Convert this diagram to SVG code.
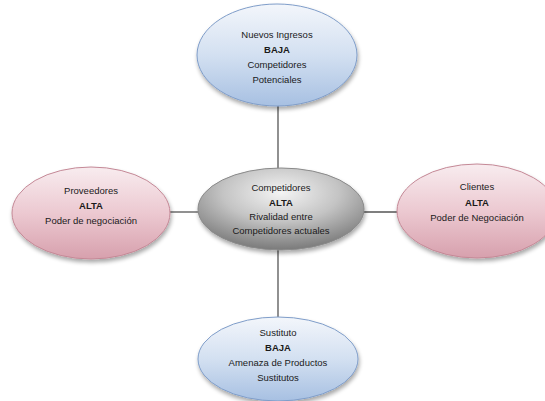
<svg xmlns="http://www.w3.org/2000/svg" width="545" height="401" viewBox="0 0 545 401">
<defs>
<linearGradient id="gBlue" x1="0" y1="0" x2="0" y2="1">
<stop offset="0" stop-color="#f3f6fb"/><stop offset="0.5" stop-color="#d3e0f1"/><stop offset="1" stop-color="#a7c0e2"/>
</linearGradient>
<linearGradient id="gPink" x1="0" y1="0" x2="0" y2="1">
<stop offset="0" stop-color="#f8ecef"/><stop offset="0.5" stop-color="#ecc9d1"/><stop offset="1" stop-color="#d7a0ad"/>
</linearGradient>
<radialGradient id="gGray" cx="0.5" cy="0.3" r="0.7">
<stop offset="0" stop-color="#f4f4f4"/><stop offset="0.5" stop-color="#c4c4c4"/><stop offset="1" stop-color="#7a7a7a"/>
</radialGradient>
<filter id="sh" x="-20%" y="-20%" width="140%" height="150%">
<feGaussianBlur in="SourceAlpha" stdDeviation="2"/>
<feOffset dx="1" dy="3" result="b"/>
<feComponentTransfer><feFuncA type="linear" slope="0.35"/></feComponentTransfer>
<feMerge><feMergeNode/><feMergeNode in="SourceGraphic"/></feMerge>
</filter>
</defs>
<style>
.blue{fill:url(#gBlue);stroke:#7f9dc9;stroke-width:1}
.pink{fill:url(#gPink);stroke:#c48896;stroke-width:1}
.gray{fill:url(#gGray);stroke:#8a8a8a;stroke-width:1}
text{font-family:"Liberation Sans",Arial,sans-serif;font-size:9.5px;fill:#1a1a1a;text-anchor:middle}
.b{font-weight:bold}
.con line{stroke:#555;stroke-width:1.3}
</style>
<g class="con">
<line x1="278" y1="105" x2="278" y2="170"/>
<line x1="278" y1="248" x2="278" y2="318"/>
<line x1="168" y1="212" x2="200" y2="212"/>
<line x1="363" y1="212" x2="398" y2="212"/>
</g>
<g id="nuevos">
<ellipse class="blue" filter="url(#sh)" cx="277" cy="55" rx="80" ry="51"/>
<text x="277" y="38">Nuevos Ingresos</text>
<text x="277" y="53" class="b">BAJA</text>
<text x="277" y="68">Competidores</text>
<text x="277" y="83">Potenciales</text>
</g>
<g id="proveedores">
<ellipse class="pink" filter="url(#sh)" cx="91" cy="213" rx="79" ry="46"/>
<text x="91" y="194">Proveedores</text>
<text x="91" y="209" class="b">ALTA</text>
<text x="91" y="224">Poder de negociación</text>
</g>
<g id="competidores">
<ellipse class="gray" filter="url(#sh)" cx="281" cy="209" rx="83" ry="41"/>
<text x="281" y="191">Competidores</text>
<text x="281" y="206" class="b">ALTA</text>
<text x="281" y="220">Rivalidad entre</text>
<text x="281" y="234">Competidores actuales</text>
</g>
<g id="clientes">
<ellipse class="pink" filter="url(#sh)" cx="477" cy="211" rx="80" ry="47"/>
<text x="477" y="190">Clientes</text>
<text x="477" y="206" class="b">ALTA</text>
<text x="477" y="221">Poder de Negociación</text>
</g>
<g id="sustituto">
<ellipse class="blue" filter="url(#sh)" cx="278" cy="359" rx="80" ry="42"/>
<text x="278" y="336">Sustituto</text>
<text x="278" y="351" class="b">BAJA</text>
<text x="278" y="366">Amenaza de Productos</text>
<text x="278" y="381">Sustitutos</text>
</g>
</svg>
